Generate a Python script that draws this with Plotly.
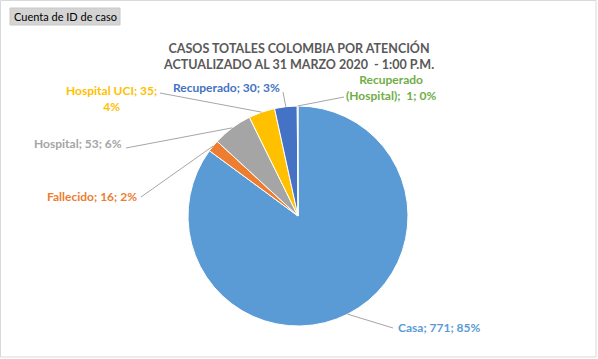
import math
import plotly.graph_objects as go

categories = ["Casa", "Fallecido", "Hospital", "Hospital UCI", "Recuperado", "Recuperado (Hospital)"]
values = [771, 16, 53, 35, 30, 1]
colors = ["#5B9BD5", "#ED7D31", "#A5A5A5", "#FFC000", "#4472C4", "#70AD47"]
label_colors = ["#5B9BD5", "#ED7D31", "#A5A5A5", "#FFC000", "#4472C4", "#70AD47"]

W, H = 598, 359
CX, CY, R = 298, 216, 110

# label layout: (text x, text y, anchor, line end x, line end y, multiline template)
label_layout = {
    "Casa": (396, 327, "left", 393, 328, None),
    "Fallecido": (139, 196, "right", 141, 197, None),
    "Hospital": (124, 144, "right", 126, 148, None),
    "Hospital UCI": (112, 98, "center", 160, 93, "{c}; {v};<br>{p}"),
    "Recuperado": (282, 87, "right", 283, 92, None),
    "Recuperado (Hospital)": (391, 88, "center", 344, 97, "Recuperado<br>(Hospital);  {v}; {p}"),
}

def px(x):
    return x / W

def py(y):
    return 1 - y / H

fig = go.Figure()
fig.add_trace(go.Pie(
    labels=categories, values=values, sort=False, direction="clockwise", rotation=0,
    marker=dict(colors=colors, line=dict(color="white", width=1)),
    textinfo="none", hoverinfo="label+value+percent", showlegend=False,
    domain=dict(x=[px(CX - R), px(CX + R)], y=[py(CY + R), py(CY - R)]),
))

total = sum(values)
shapes = []
annotations = []
cum = 0
for cat, v, col in zip(categories, values, label_colors):
    mid = (cum + v / 2) / total
    cum += v
    th = 2 * math.pi * mid
    ex, ey = CX + R * math.sin(th), CY - R * math.cos(th)
    tx, ty, anc, lx, ly, tmpl = label_layout[cat]
    pct = f"{round(100 * v / total)}%"
    text = (tmpl or "{c}; {v}; {p}").format(c=cat, v=v, p=pct)
    shapes.append(dict(type="line", xref="paper", yref="paper",
                       x0=px(ex), y0=py(ey), x1=px(lx), y1=py(ly),
                       line=dict(color="#A6A6A6", width=1)))
    annotations.append(dict(x=px(tx), y=py(ty), xref="paper", yref="paper", text=text,
                            showarrow=False, xanchor=anc, yanchor="middle",
                            font=dict(family="Lato", size=12, color=col, weight="bold"),
                            align="center"))

# title
annotations.append(dict(x=px(298), y=py(56), xref="paper", yref="paper",
                        text="CASOS TOTALES COLOMBIA POR ATENCIÓN<br>ACTUALIZADO AL 31 MARZO 2020  - 1:00 P.M.",
                        showarrow=False, xanchor="center", yanchor="middle",
                        font=dict(family="Lato", size=12.5, color="#595959", weight="bold")))
# field button
shapes.append(dict(type="rect", xref="paper", yref="paper", x0=px(10), x1=px(120), y0=py(8), y1=py(25),
                   fillcolor="#D4D4D4", line=dict(color="#C8C8C8", width=1), layer="below"))
annotations.append(dict(x=px(65), y=py(16.5), xref="paper", yref="paper", text="Cuenta de ID de caso",
                        showarrow=False, xanchor="center", yanchor="middle",
                        font=dict(family="Lato", size=11, color="#000000")))
# outer border
shapes.append(dict(type="rect", xref="paper", yref="paper", x0=px(0.5), x1=px(W - 2), y0=py(H - 2), y1=py(0.5),
                   line=dict(color="#D9D9D9", width=1)))

fig.update_layout(width=W, height=H, margin=dict(l=0, r=0, t=0, b=0),
                  paper_bgcolor="white", plot_bgcolor="white",
                  shapes=shapes, annotations=annotations)
fig.write_html("out.html", config={"displayModeBar": False},
               post_script="document.body.style.margin='0';document.body.style.overflow='hidden';")
